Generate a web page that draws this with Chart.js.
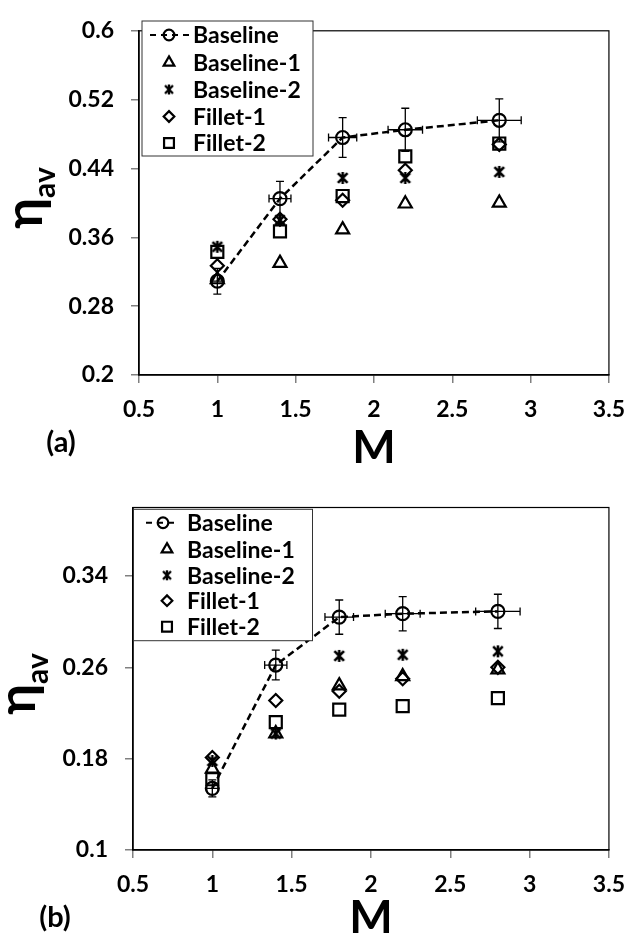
<!DOCTYPE html>
<html>
<head>
<meta charset="utf-8">
<script src="https://cdn.jsdelivr.net/npm/chart.js@4/dist/chart.umd.min.js"></script>
<style>
  html, body { margin: 0; padding: 0; background: #fff; }
  .panel { position: absolute; left: 0; width: 638px; height: 467px; }
  #wrapA { top: 0; }
  #wrapB { top: 467px; }
</style>
</head>
<body>
<div class="panel" id="wrapA"><canvas id="chartA" width="638" height="467"></canvas></div>
<div class="panel" id="wrapB"><canvas id="chartB" width="638" height="467"></canvas></div>
<script>
// Mach number (x) and series names
const mValues = [1, 1.4, 1.8, 2.2, 2.8];
const seriesNames = ['Baseline', 'Baseline-1', 'Baseline-2', 'Fillet-1', 'Fillet-2'];

// panel (a)
const baselineA  = [0.309, 0.405, 0.476, 0.485, 0.496];
const baseline1A = [0.311, 0.330, 0.369, 0.399, 0.400];
const baseline2A = [0.349, 0.380, 0.429, 0.429, 0.436];
const fillet1A   = [0.327, 0.381, 0.403, 0.438, 0.468];
const fillet2A   = [0.343, 0.367, 0.408, 0.454, 0.469];
const yErrA      = [0.015, 0.020, 0.023, 0.025, 0.025];

// panel (b)
const baselineB  = [0.154, 0.262, 0.304, 0.307, 0.309];
const baseline1B = [0.171, 0.202, 0.244, 0.252, 0.258];
const baseline2B = [0.178, 0.202, 0.270, 0.271, 0.274];
const fillet1B   = [0.181, 0.231, 0.239, 0.250, 0.260];
const fillet2B   = [0.162, 0.212, 0.223, 0.226, 0.233];
const yErrB      = [0.0075, 0.013, 0.015, 0.015, 0.015];

// horizontal error of the baseline (same in both panels)
const xErr = [0.035, 0.07, 0.09, 0.11, 0.14];

// tick labels
const xTicks = [0.5, 1, 1.5, 2, 2.5, 3, 3.5];
const xTickLabels = ['0.5', '1', '1.5', '2', '2.5', '3', '3.5'];
const yTicksA = [0.2, 0.28, 0.36, 0.44, 0.52, 0.6];
const yTickLabelsA = ['0.2', '0.28', '0.36', '0.44', '0.52', '0.6'];
const yTicksB = [0.1, 0.18, 0.26, 0.34];
const yTickLabelsB = ['0.1', '0.18', '0.26', '0.34'];

Chart.defaults.font.family = 'Lato, "Noto Sans", sans-serif';
Chart.defaults.color = '#000';

// asterisk marker (X with a vertical bar)
function makeAsterisk(size, lw) {
    const c = document.createElement('canvas');
    c.width = size; c.height = size;
    const g = c.getContext('2d');
    g.strokeStyle = '#000';
    g.lineWidth = lw;
    const m = size / 2, a = size / 2 - 1;
    g.beginPath();
    g.moveTo(m - a * 0.8, m - a * 0.8); g.lineTo(m + a * 0.8, m + a * 0.8);
    g.moveTo(m + a * 0.8, m - a * 0.8); g.lineTo(m - a * 0.8, m + a * 0.8);
    g.moveTo(m, m - a); g.lineTo(m, m + a);
    g.stroke();
    return c;
}
const starBig = makeAsterisk(14, 2.6);
const starSmall = makeAsterisk(12, 2.4);

const styles = [
    { pointStyle: 'circle',   radius: 6.5 },
    { pointStyle: 'triangle', radius: 7.5 },
    { pointStyle: starBig,    radius: 7 },
    { pointStyle: 'rectRot',  radius: 6.5 },
    { pointStyle: 'rect',     radius: 8.5 }
];

function toPoints(vals) {
    return mValues.map((m, i) => ({ x: m, y: vals[i] }));
}

function makeDatasets(series) {
    return series.map((vals, k) => ({
        label: seriesNames[k],
        data: toPoints(vals),
        showLine: k === 0,
        borderColor: '#000',
        borderWidth: 2.5,
        borderDash: [7, 4],
        pointStyle: styles[k].pointStyle,
        pointRadius: styles[k].radius,
        pointBorderColor: '#000',
        pointBackgroundColor: 'rgba(0,0,0,0)',
        pointBorderWidth: 2.2
    }));
}

// error bars, frame, legend and texts
const decorPlugin = {
    id: 'decor',
    afterDatasetsDraw(chart, args, o) {
        const ctx = chart.ctx;
        const xs = chart.scales.x, ys = chart.scales.y;
        const base = chart.data.datasets[0].data;
        ctx.save();
        ctx.strokeStyle = '#000';
        ctx.lineWidth = 1.3;
        ctx.setLineDash([]);
        base.forEach((p, i) => {
            const px = xs.getPixelForValue(p.x);
            const py = ys.getPixelForValue(p.y);
            const t = ys.getPixelForValue(p.y + o.yErr[i]);
            const b = ys.getPixelForValue(p.y - o.yErr[i]);
            const l = xs.getPixelForValue(p.x - xErr[i]);
            const r = xs.getPixelForValue(p.x + xErr[i]);
            ctx.beginPath();
            ctx.moveTo(px, t); ctx.lineTo(px, b);
            ctx.moveTo(px - 4, t); ctx.lineTo(px + 4, t);
            ctx.moveTo(px - 4, b); ctx.lineTo(px + 4, b);
            ctx.moveTo(l, py); ctx.lineTo(r, py);
            ctx.moveTo(l, py - 4); ctx.lineTo(l, py + 4);
            ctx.moveTo(r, py - 4); ctx.lineTo(r, py + 4);
            ctx.stroke();
        });

        // plot frame
        const a = chart.chartArea;
        ctx.lineWidth = 1.2;
        ctx.strokeRect(a.left, a.top, a.right - a.left, a.bottom - a.top);

        // legend
        const L = o.legend;
        ctx.fillStyle = '#fff';
        ctx.fillRect(L.x, L.y, L.w, L.h);
        ctx.strokeStyle = '#333';
        ctx.lineWidth = 1;
        ctx.strokeRect(L.x, L.y, L.w, L.h);
        ctx.strokeStyle = '#000';
        ctx.textBaseline = 'middle';
        ctx.textAlign = 'left';
        chart.data.datasets.forEach((ds, k) => {
            const ry = L.rows[k];
            if (k === 0) {
                ctx.lineWidth = 2;
                ctx.setLineDash([6, 5]);
                ctx.beginPath();
                ctx.moveTo(L.lineFrom, ry); ctx.lineTo(L.lineTo, ry);
                ctx.stroke();
                ctx.setLineDash([]);
            }
            ctx.lineWidth = 2.2;
            ctx.fillStyle = 'rgba(0,0,0,0)';
            const st = k === 2 ? starSmall : styles[k].pointStyle;
            const mx = k === 0 ? L.circleX : L.markerX;
            Chart.helpers.drawPoint(ctx, {
                pointStyle: st, rotation: 0,
                radius: styles[k].radius * 0.82, borderWidth: 2.2
            }, mx, ry);
            ctx.fillStyle = '#000';
            ctx.font = 'bold 23px Lato';
            ctx.fillText(ds.label, L.textX, ry + 1);
        });

        // axis titles and panel tag
        ctx.fillStyle = '#000';
        ctx.textAlign = 'center';
        ctx.font = 'bold 46px Lato';
        ctx.fillText('M', (a.left + a.right) / 2, o.mY);
        ctx.font = 'bold 29px Lato';
        ctx.fillText(o.tag, o.tagX, o.tagY);

        ctx.translate(0, o.etaY);
        ctx.rotate(-Math.PI / 2);
        ctx.textAlign = 'left';
        ctx.textBaseline = 'alphabetic';
        ctx.font = 'bold 52px Lato';
        const wEta = ctx.measureText('η').width;
        ctx.font = 'bold 30px Lato';
        const wAv = ctx.measureText('av').width;
        const s = -(wEta + wAv) / 2;
        ctx.font = 'bold 52px Lato';
        ctx.fillText('η', s, o.etaBase);
        ctx.font = 'bold 30px Lato';
        ctx.fillText('av', s + wEta, o.etaBase + 13);
        ctx.restore();
    }
};

function makeChart(id, series, yMin, yMax, yTicks, yLabels, cfg) {
    return new Chart(document.getElementById(id), {
        type: 'scatter',
        data: { datasets: makeDatasets(series) },
        options: {
            responsive: false,
            animation: false,
            events: [],
            layout: { padding: cfg.padding },
            plugins: {
                legend: { display: false },
                tooltip: { enabled: false },
                decor: cfg.decor
            },
            scales: {
                x: {
                    type: 'linear', min: 0.5, max: 3.5,
                    afterBuildTicks: s => { s.ticks = xTicks.map(v => ({ value: v })); },
                    afterFit: s => { s.height = cfg.xHeight; },
                    ticks: {
                        callback: (v, i) => xTickLabels[i],
                        font: { size: 23, weight: 'bold' },
                        padding: 13, maxRotation: 0, autoSkip: false
                    },
                    grid: { drawOnChartArea: false, tickLength: 8, color: '#808080', lineWidth: 1.5 },
                    border: { color: '#000', width: 1.5 }
                },
                y: {
                    min: yMin, max: yMax,
                    afterBuildTicks: s => { s.ticks = yTicks.map(v => ({ value: v })); },
                    afterFit: s => { s.width = cfg.yWidth; },
                    ticks: {
                        callback: (v, i) => yLabels[i],
                        font: { size: 23, weight: 'bold' },
                        padding: 17, autoSkip: false
                    },
                    grid: { drawOnChartArea: false, tickLength: 8, color: '#808080', lineWidth: 1.5 },
                    border: { color: '#000', width: 1.5 }
                }
            }
        },
        plugins: [decorPlugin]
    });
}

makeChart('chartA',
    [baselineA, baseline1A, baseline2A, fillet1A, fillet2A],
    0.2, 0.6, yTicksA, yTickLabelsA, {
        padding: { top: 19, right: 28, left: 0, bottom: 0 },
        xHeight: 92, yWidth: 139,
        decor: {
            yErr: yErrA,
            legend: { x: 142, y: 21, w: 171, h: 135,
                      rows: [35, 62.5, 89.5, 116.5, 143],
                      lineFrom: 150, lineTo: 189, circleX: 169, markerX: 169, textX: 193 },
            mY: 448, tag: '(a)', tagX: 61, tagY: 443,
            etaY: 198, etaBase: 42
        }
    });

makeChart('chartB',
    [baselineB, baseline1B, baseline2B, fillet1B, fillet2B],
    0.1, 0.4, yTicksB, yTickLabelsB, {
        padding: { top: 40.5, right: 18, left: 0, bottom: 0 },
        xHeight: 84, yWidth: 133,
        decor: {
            yErr: yErrB,
            legend: { x: 133.5, y: 42.3, w: 179, h: 131.4,
                      rows: [55.7, 82.3, 108.3, 133.7, 159.7],
                      lineFrom: 146, lineTo: 178, circleX: 163, markerX: 167, textX: 187 },
            mY: 451, tag: '(b)', tagX: 55, tagY: 451,
            etaY: 217, etaBase: 35
        }
    });
</script>
</body>
</html>
